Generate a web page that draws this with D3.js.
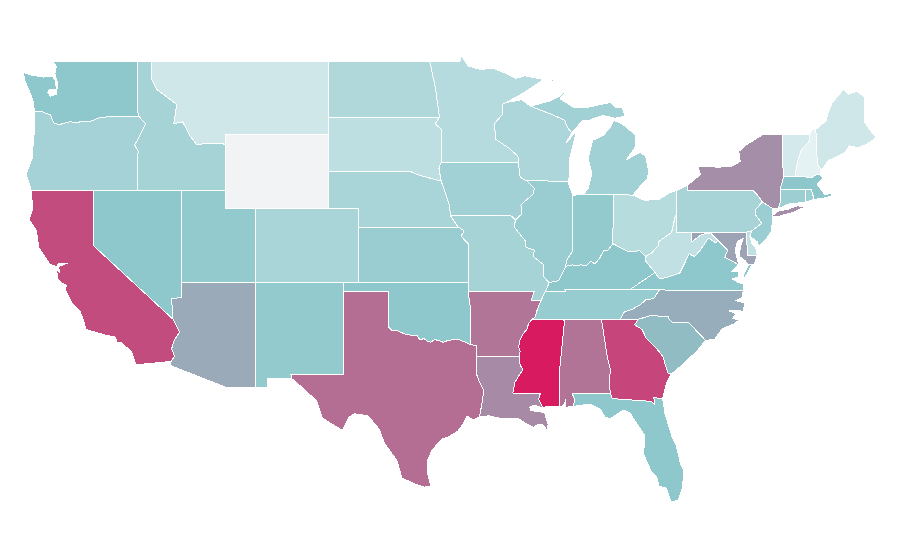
<!DOCTYPE html>
<html lang="en">
<head>
<meta charset="UTF-8">
<title>US states choropleth</title>
<script src="https://d3js.org/d3.v7.min.js"></script>
<style>
  html, body { margin: 0; background: #fff; }
  svg { display: block; }
  path.state { stroke: #fff; stroke-width: 1; stroke-linejoin: round; shape-rendering: crispEdges; }
</style>
</head>
<body>
<svg width="900" height="560"></svg>
<script>
// shared borders, lon,lat
const columbia = "-123.98,46.25 -123.5,46.27 -123.2,46.15 -122.9,46.1 -122.8,45.85 -122.65,45.62 -122.3,45.55 -122,45.62 -121.55,45.72 -121.2,45.65 -120.65,45.74 -120.2,45.73 -119.6,45.92 -119.3,45.93 -118.98,46 -116.92,46";
const snake = "-116.92,46 -116.46,45.6 -116.85,44.95 -117.2,44.45 -117.05,44.23 -116.95,44.1 -117.03,43.83 -117.03,42";
const idMt = "-116.05,48 -115.7,47.45 -114.95,47 -114.35,46.65 -114.55,45.6 -113.95,45.7 -113.45,44.95 -113,44.45 -112.3,44.55 -111.5,44.55 -111.05,44.48";
const nvAz = "-114.05,36.2 -114.7,36.1 -114.6,35";
const caAz = "-114.6,35 -114.15,34.3 -114.5,33.9 -114.7,33.4 -114.5,33 -114.72,32.72";
const neIa = "-96.45,42.49 -96.1,41.7 -95.9,41.2 -95.8,40.6";
const neMo = "-95.8,40.6 -95.3,40";
const ksMo = "-95.3,40 -94.9,39.8 -95.1,39.5 -94.62,39.1";
const missMnWi = "-91.22,43.5 -91.25,43.85 -91.9,44.3 -92.75,44.75 -92.85,45.6 -92.3,46.1 -92.3,46.66 -92.05,46.75";
const iaWi = "-91.22,43.5 -91.1,42.7 -90.65,42.5";
const iaIl = "-90.65,42.5 -90.15,42.1 -90.2,41.8 -91.05,41.2 -91,40.7 -91.42,40.38";
const missMoIl = "-91.42,40.38 -91.5,40 -90.75,39.25 -90.7,38.9 -90.15,38.75 -90.2,38.4 -89.5,37.95 -89.5,37.3 -89.13,36.98";
const missKy = "-89.13,36.98 -89.4,36.5";
const missBoot = "-89.4,36.5 -89.7,36";
const missTn = "-89.7,36 -89.95,35.5 -90.1,35.1 -90.3,35";
const missAr = "-90.3,35 -90.55,34.75 -90.6,34.5 -90.9,34.2 -91.1,33.9 -91.2,33.5 -91.1,33.25 -91.17,33";
const missLa = "-91.17,33 -91.1,32.5 -90.9,32.3 -91.45,31.6 -91.6,31";
const ohioWv = "-80.52,40.64 -80.6,40.6 -80.85,39.7 -81.75,39.2 -81.75,39 -82.2,38.6 -82.6,38.4";
const ohioKy = "-82.6,38.4 -83,38.72 -83.7,38.65 -84.25,38.85 -84.82,39.1";
const ohioIn = "-84.82,39.1 -85.2,38.7 -85.45,38.72 -85.75,38.27 -86.05,38 -86.3,38.15 -86.65,37.9 -87,37.95 -87.3,37.9 -87.55,37.95 -87.9,37.9 -88.05,37.8";
const ohioIl = "-88.05,37.8 -88.5,37.1 -89.13,36.98";
const wabash = "-88.05,37.8 -87.95,38.2 -87.55,38.7 -87.53,39.35";
const redR = "-100,34.56 -99.8,34.4 -99.5,34.42 -99.2,34.3 -98.9,34.2 -98.6,34.15 -98.3,34.12 -98.1,34.15 -97.9,33.9 -97.6,33.95 -97.4,33.82 -97.15,33.75 -96.9,33.9 -96.6,33.85 -96.3,33.75 -96,33.85 -95.6,33.9 -95.2,33.88 -94.8,33.75 -94.48,33.64";
const sabine = "-94.04,31.99 -93.8,31.5 -93.55,31.15 -93.7,30.4 -93.85,29.7";
const savannah = "-83.1,35 -83.35,34.7 -82.85,34.45 -82.55,33.95 -81.9,33.45 -81.45,33 -81.1,32.1 -80.88,32.03";
const ncSc = "-83.1,35 -82.3,35.2 -81.05,35.15 -81.05,35.05 -80.8,34.82 -79.67,34.8 -78.55,33.86";
const tnNc = "-81.68,36.59 -82.05,36.12 -82.6,36.05 -82.95,35.8 -83.5,35.55 -84.05,35.4 -84.32,35";
const vaWv = "-77.85,39.14 -78.35,39.4 -78.9,38.75 -79.3,38.4 -79.65,38.55 -80.3,37.5 -81.25,37.25 -81.68,37.2 -81.97,37.54";
const kyWv = "-81.97,37.54 -82.6,38.15 -82.6,38.4";
const potomac = "-76.3,37.95 -76.95,38.25 -77.25,38.35 -77.05,38.75 -77.5,39.1 -77.75,39.3";
const mdWv = "-77.75,39.3 -78.2,39.68 -78.8,39.6 -79.48,39.2";
const mnDakota = "-96.56,45.94 -96.85,47.6 -97.23,49";
const sdMn = "-96.56,45.94 -96.85,45.6 -96.45,45.3 -96.45,43.5";
const iaSd = "-96.45,43.5 -96.6,43.2 -96.45,42.49";
const wiMi = "-90.4,46.55 -89.1,46.15 -88.1,45.8 -87.9,45.4 -87.6,45.1";
const paNj = "-74.7,41.36 -75.13,40.97 -75.2,40.7 -74.75,40.2 -75.4,39.8";
const vtNh = "-71.5,45.01 -71.55,44.6 -72.05,44.2 -72.3,43.6 -72.45,43 -72.46,42.73";
const nyNe = "-73.35,45.01 -73.35,43.6 -73.25,42.75 -73.5,42.05 -73.5,41.3 -73.65,41";

const stateNames = ["Washington","Oregon","California","Idaho","Nevada","Montana","Wyoming","Utah","Arizona","Colorado","New Mexico","North Dakota","South Dakota","Nebraska","Kansas","Oklahoma","Texas","Minnesota","Iowa","Missouri","Arkansas","Louisiana","Wisconsin","Illinois","Mississippi","Michigan","Indiana","Kentucky","Tennessee","Alabama","Ohio","West Virginia","Georgia","Florida","South Carolina","North Carolina","Virginia","Maryland","Delaware","Pennsylvania","New Jersey","New York","Connecticut","Rhode Island","Massachusetts","Vermont","New Hampshire","Maine"];

// Wyoming has no value and gets the no-data colour
const stateValues = [39.3,31.9,83,31.2,39.3,16.8,null,38.2,50,30.2,37.9,27.7,23.2,30.2,35.4,39.3,71,25.6,32.6,31.6,68.5,61,29.1,35.4,100,33,38.2,39.3,36.5,69,25.3,21.8,85.5,39.3,44,49,39.3,53,22,30.5,35,59.5,34.4,34.4,40,15.4,9,16.8];

// rings in the same order as stateNames; each ring is a list of pieces
const stateRings = [
  // WA
  [["-122.76,49 -117.03,49 -117.04,46.42", rev(columbia), "-124.05,46.65 -124.1,46.9 -124.15,47 -124.4,47.5 -124.65,47.95 -124.73,48.38 -124.1,48.22 -123.4,48.13 -122.75,48.15 -122.55,47.9 -122.5,47.45 -122.95,47.45 -123.1,47.3 -122.9,47.1 -122.5,47.2 -122.45,47.5 -122.45,47.9 -122.6,48.3 -122.5,48.7"]],
  // OR
  [[columbia, snake, "-120,42 -124.21,42 -124.4,42.5 -124.55,42.85 -124.15,43.7 -124.05,44.7 -123.95,45.5"]],
  // CA
  [["-124.21,42 -120,42 -120,39", caAz, "-117.12,32.53 -117.25,32.85 -117.4,33.25 -118.1,33.72 -118.4,33.75 -118.5,34.03 -119.2,34.15 -120.5,34.45 -120.65,34.9 -120.9,35.45 -121.45,35.9 -121.9,36.6 -121.8,36.85 -122.1,36.95 -122.4,37.2 -122.5,37.75 -122.25,37.5 -122.35,37.85 -121.75,38.05 -122.35,38.02 -122.5,37.85 -122.95,38 -123.7,38.9 -123.85,39.8 -124.35,40.4 -124.1,41"],
   ["-120.2,34.03 -119.6,34.02 -119.6,33.96 -120.2,33.97"], ["-118.55,33.43 -118.3,33.35 -118.35,33.3"]],
  // ID
  [["-117.03,49 -116.05,49", idMt, "-111.05,42 -117.03,42", rev(snake), "-117.04,46.42"]],
  // NV
  [["-120,42 -114.05,42", nvAz, "-120,39"]],
  // MT
  [["-116.05,49 -104.05,49 -104.05,45 -111.05,45", rev(idMt)]],
  // WY
  [["-111.05,45 -104.05,45 -104.05,41 -111.05,41"]],
  // UT
  [["-114.05,42 -111.05,42 -111.05,41 -109.05,41 -109.05,37 -114.05,37"]],
  // AZ
  [["-114.05,37 -109.05,37 -109.05,31.33 -111.07,31.33 -114.8,32.5", rev(caAz), rev(nvAz)]],
  // CO
  [["-109.05,41 -102.05,41 -102.05,37 -109.05,37"]],
  // NM
  [["-109.05,37 -103.04,37 -103.04,32 -106.62,32 -106.55,31.78 -108.2,31.78 -108.2,31.33 -109.05,31.33"]],
  // ND
  [["-104.05,49 -97.23,49", rev(mnDakota), "-104.05,45.94"]],
  // SD
  [["-104.05,45.94", sdMn, iaSd, "-97.9,42.8 -98.5,43 -104.05,43"]],
  // NE
  [["-104.05,43 -98.5,43 -97.9,42.8", neIa, neMo, "-102.05,40 -102.05,41 -104.05,41"]],
  // KS
  [["-102.05,40", ksMo, "-94.62,37 -102.05,37"]],
  // OK
  [["-103.04,37 -94.62,37 -94.62,36.5 -94.43,35.4", rev(redR), "-100,36.5 -103.04,36.5"]],
  // TX
  [["-103.04,36.5 -100,36.5", redR, "-94.04,33.55", sabine, "-94.3,29.55 -94.7,29.75 -94.95,29.35 -95.3,28.95 -95.9,28.65 -96.4,28.5 -96.8,28.15 -97.1,27.85 -97.4,27.3 -97.35,26.6 -97.15,25.96 -97.6,25.9 -98.3,26.1 -99.1,26.4 -99.45,27.35 -100.3,28.3 -100.65,29.05 -101.4,29.77 -102.3,29.88 -102.7,29.7 -103.15,28.98 -104.5,29.65 -104.9,30.6 -106,31.4 -106.55,31.78 -106.62,32 -103.04,32"]],
  // MN
  [["-97.23,49 -95.15,49 -95.15,49.38 -94.6,48.72 -93.8,48.55 -92.9,48.6 -92,48.3 -91.4,48.05 -90.8,48.2 -89.5,48 -90.8,47.3", rev(missMnWi), "-96.45,43.5", rev(sdMn), "-96.85,47.6"]],
  // IA
  [["-96.45,43.5", iaWi, iaIl, "-91.7,40.6", rev(neIa), "-96.6,43.2"]],
  // MO
  [["-95.8,40.6 -91.7,40.6", missMoIl, missKy, missBoot, "-90.37,36 -90.15,36.5 -94.62,36.5", rev(ksMo)]],
  // AR
  [["-94.62,36.5 -90.15,36.5 -90.37,36", missTn, missAr, "-94.04,33 -94.04,33.55 -94.48,33.64 -94.43,35.4"]],
  // LA
  [["-94.04,33", missLa, "-89.73,31 -89.85,30.65 -89.55,30.18 -90.1,30.35 -90.45,30.25 -90.4,30.05 -89.9,30 -89.45,29.95 -89.4,29.8 -89.2,29.3 -89.3,29.02 -89.6,29.3 -89.9,29.3 -90.2,29.15 -90.5,29.25 -90.9,29.45 -91.3,29.65 -91.8,29.6 -92.3,29.6 -93.2,29.77", rev(sabine)]],
  // WI
  [["-92.05,46.75 -91,46.9", wiMi, "-88,44.55 -87.3,45.2 -87.5,44.5 -87.75,43.7 -87.8,42.49 -90.65,42.5", rev(iaWi), missMnWi]],
  // IL
  [["-87.53,41.72 -87.8,42.3 -87.8,42.49", iaIl, missMoIl, rev(ohioIl), wabash]],
  // MS
  [["-90.3,35 -88.2,35 -88.1,34.9 -88.47,31.9 -88.4,30.25 -89.3,30.3 -89.55,30.18 -89.85,30.65 -89.73,31", rev(missLa), rev(missAr)]],
  // MI
  [["-86.8,41.76 -84.8,41.76 -83.45,41.73 -83.15,42.05 -82.5,42.6 -82.4,43 -82.6,43.85 -83,44.05 -83.9,43.65 -83.3,44.35 -83.3,45 -84.2,45.6 -84.75,45.78 -85,45.4 -85.5,44.95 -86.2,44.7 -86.5,43.7 -86.25,42.9 -86.5,42.1"],
   ["-90.4,46.55 -89,46.85 -88.45,47.1 -87.9,47.45 -88.4,46.95 -87.5,46.5 -86.5,46.5 -85,46.75 -84.6,46.45 -84.2,46.5 -84,46 -84.7,45.9 -85.5,46.05 -86.4,45.8 -86.9,45.75", rev(wiMi)],
   ["-89.2,47.85 -88.5,48.15 -88.9,47.9"]],
  // IN
  [["-87.53,41.72 -87.2,41.75 -86.8,41.76 -84.8,41.76", ohioIn, wabash]],
  // KY
  [["-89.4,36.5 -88.05,36.5 -88.07,36.6 -83.68,36.6", kyWv, ohioKy, ohioIn, ohioIl]],
  // TN
  [["-90.3,35 -84.32,35", rev(tnNc), "-83.68,36.6 -88.07,36.6 -88.05,36.5 -89.4,36.5", missBoot, missTn]],
  // AL
  [["-88.2,35 -85.6,35 -85.18,32.87 -85,32.3 -85.05,31.55 -85,31 -87.6,31 -87.4,30.65 -87.5,30.28 -88,30.23 -88,30.65 -88.15,30.35 -88.4,30.25 -88.47,31.9 -88.1,34.9"]],
  // OH
  [["-84.8,41.76 -83.45,41.73 -82.7,41.45 -81.7,41.5 -81,41.85 -80.52,41.98", ohioWv, ohioKy]],
  // WV
  [["-80.52,40.64 -80.52,39.72 -79.48,39.72", rev(mdWv), vaWv, kyWv, rev(ohioWv)]],
  // GA
  [["-85.6,35", savannah, "-81.2,31.5 -81.4,30.9 -81.45,30.7 -82.05,30.75 -82,30.37 -82.2,30.55 -84.86,30.7 -85,31 -85.05,31.55 -85,32.3 -85.18,32.87"]],
  // FL
  [["-87.6,31 -85,31 -84.86,30.7 -82.2,30.55 -82,30.37 -82.05,30.75 -81.45,30.7 -81.3,29.9 -80.8,28.6 -80.55,28.2 -80.25,27.2 -80.03,26.8 -80.1,25.9 -80.4,25.2 -80.9,25.1 -81.2,25.85 -81.7,25.95 -81.85,26.45 -82.25,26.8 -82.75,27.7 -82.65,28.7 -83.05,29.15 -83.65,29.9 -84.1,30.08 -85,29.6 -85.35,29.7 -85.7,30.15 -86.4,30.4 -87.5,30.28 -87.4,30.65"]],
  // SC
  [[ncSc, "-79.1,33.3 -79.9,32.7 -80.45,32.3", rev(savannah)]],
  // NC
  [["-84.32,35", ncSc, "-77.95,33.9 -77.4,34.5 -76.6,34.75 -76.3,34.95 -76.7,35.05 -76.5,35.3 -76.95,35.45 -76.3,35.5 -76,35.4 -75.9,35.9 -76.5,36 -76.05,36.2 -76,36.55", tnNc]],
  // VA
  [["-83.68,36.6 -81.68,36.59 -76,36.55 -75.98,36.9 -76.35,37 -76.75,37.2 -76.3,37.3 -76.3,37.6 -76.8,37.6", potomac, vaWv],
   ["-75.65,37.95 -75.4,38 -75.95,37.15 -76,37.4"]],
  // MD
  [["-79.48,39.72 -75.79,39.72 -75.7,38.46 -75.05,38.45 -75.25,38 -75.65,37.95 -75.9,38.2 -76.25,38.4 -76.2,38.9 -76,39.4 -76.4,39.2 -76.55,38.7 -76.4,38.3", potomac, mdWv]],
  // DE
  [["-75.79,39.72 -75.4,39.8 -75.55,39.5 -75.4,39.1 -75.1,38.8 -75.05,38.45 -75.7,38.46"]],
  // PA
  [["-80.52,41.98 -79.76,42.27 -79.76,42 -75.35,42 -75.05,41.75", paNj, "-75.79,39.72 -80.52,39.72"]],
  // NJ
  [["-74.7,41.36 -74,41 -74,40.45 -74.1,39.75 -74.4,39.4 -74.95,38.93 -75.05,39.2 -75.55,39.5", rev(paNj)]],
  // NY
  [["-79.76,42.27 -78.9,42.85 -79.05,43.27 -77.6,43.25 -76.8,43.3 -76.2,43.55 -76.3,44.1 -75.8,44.45 -74.7,45", nyNe, "-74,41 -74.7,41.36 -75.05,41.75 -75.35,42 -79.76,42"],
   ["-74.03,40.6 -73.7,40.85 -73,40.96 -72.3,41.15 -71.87,41.07 -72.6,40.8 -73.6,40.58"]],
  // CT
  [["-73.5,42.05 -71.8,42.02 -71.8,41.35 -72.9,41.25 -73.65,41 -73.5,41.3"]],
  // RI
  [["-71.8,42.02 -71.38,42.02 -71.2,41.5 -71.8,41.35"]],
  // MA
  [["-73.5,42.05 -73.25,42.75 -72.46,42.73 -71.3,42.7 -71,42.87 -70.8,42.87 -70.6,42.65 -71,42.3 -70.65,41.95 -70.5,41.78 -70,41.8 -70.2,42.07 -69.95,41.7 -70.6,41.55 -71.2,41.5 -71.38,42.02 -71.8,42.02"],
   ["-70.8,41.4 -70.45,41.42 -70.6,41.33"], ["-70.2,41.3 -69.98,41.28 -70.1,41.23"]],
  // VT
  [["-73.35,45.01", vtNh, "-73.25,42.75 -73.35,43.6"]],
  // NH
  [["-71.5,45.01 -71.3,45.3 -71.08,45.3 -70.98,43.4 -70.7,43.07 -70.8,42.87 -71,42.87 -71.3,42.7", rev(vtNh)]],
  // ME
  [["-71.08,45.3 -70.4,45.75 -70.25,46.2 -70,46.7 -69.23,47.46 -68.9,47.2 -68.3,47.35 -67.8,47.07 -67.8,45.7 -67.45,45.3 -67,44.85 -67.6,44.5 -68.2,44.3 -68.8,44.4 -69.1,44.05 -69.8,43.75 -70.25,43.6 -70.7,43.07 -70.98,43.4"]]
];

function rev(s) { return s.split(" ").reverse().join(" "); }

function toRing(pieces) {
  const pts = pieces.join(" ").trim().split(/\s+/).map(p => p.split(",").map(Number));
  pts.push(pts[0]);
  return pts;
}

const svg = d3.select("svg");

const x = d3.scaleLinear().domain([-120, -73.4]).range([93.3, 781.6]);
const y = d3.scaleLinear().domain([49, 31.33]).range([61, 387]);

const color = d3.scaleLinear()
  .domain([0, 40, 100])
  .range(["#ffffff", "#8dc7cb", "#d81b60"]);
const noData = "#f2f3f5";

// the map is plain lon/lat stretched to fit, so no spherical projection
const path = d3.geoPath(d3.geoTransform({
  point(lon, lat) { this.stream.point(x(lon), y(lat)); }
}));

const states = stateNames.map((name, i) => ({
  type: "Feature",
  properties: { name, value: stateValues[i] },
  geometry: { type: "MultiPolygon", coordinates: stateRings[i].map(r => [toRing(r)]) }
}));

svg.selectAll("path")
  .data(states)
  .enter()
  .append("path")
    .attr("class", "state")
    .attr("d", path)
    .attr("fill", d => d.properties.value == null ? noData : color(d.properties.value));
</script>
</body>
</html>
